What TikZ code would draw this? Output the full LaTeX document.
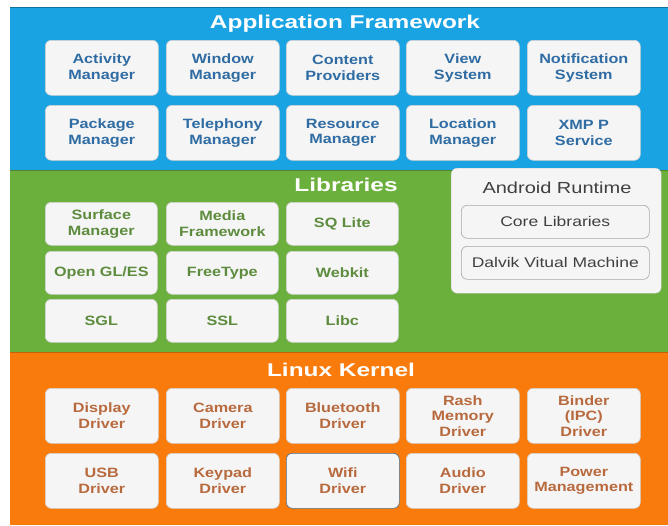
\documentclass[tikz,border=0pt]{standalone}
\usepackage{fontspec}
\setmainfont{Liberation Sans}
\newfontfamily\boxfont[FakeStretch=1.2]{Liberation Sans}
\newfontfamily\rtfont[FakeStretch=1.25]{Liberation Sans}
\newfontfamily\titlefont[FakeStretch=1.32]{Liberation Sans}
\definecolor{fwblue}{HTML}{1AA3E2}
\definecolor{libgreen}{HTML}{6BB03C}
\definecolor{kerorange}{HTML}{F97B0C}
\definecolor{fwtext}{HTML}{2F6CA3}
\definecolor{libtext}{HTML}{5E8C3E}
\definecolor{kertext}{HTML}{B86A3E}
\definecolor{boxfill}{HTML}{F5F5F5}
\definecolor{boxline}{HTML}{D0D0D0}
\tikzset{
  cell/.style={draw=boxline, fill=boxfill, rounded corners=6pt, line width=0.6pt,
    minimum width=113pt, minimum height=55pt, align=center, inner sep=1pt,
    font=\boxfont\fontsize{13.5}{15.5}\selectfont\bfseries, anchor=north west},
  fwcell/.style={cell, text=fwtext},
  libcell/.style={cell, text=libtext, minimum height=43pt, minimum width=112pt},
  kercell/.style={cell, text=kertext},
  bandtitle/.style={text=white, font=\titlefont\fontsize{18.5}{20}\selectfont\bfseries},
  rtbox/.style={draw=boxline!80!black, fill=boxfill, rounded corners=6pt, line width=0.6pt,
    minimum width=188pt, minimum height=33pt, text=black!75,
    font=\rtfont\fontsize{14}{16}\selectfont, anchor=north west}
}
\begin{document}
\begin{tikzpicture}[x=1pt,y=-1pt]
\useasboundingbox (0,0) rectangle (668,525);
\fill[white] (0,0) rectangle (668,525);
% bands
\fill[fwblue] (10,7) rectangle (668,170);
\draw[fwblue!70!black, line width=0.8pt] (10,7.4) -- (668,7.4);
\fill[libgreen] (10,170) rectangle (668,352);
\fill[kerorange] (10,352) rectangle (668,525);
\draw[libgreen!75!black, line width=1.2pt] (10,170.5) -- (668,170.5);
\draw[kerorange!80!black, line width=1.2pt] (10,352.5) -- (668,352.5);
% titles
\node[bandtitle] (fwt) at (345,24) {Application Framework};
\node[bandtitle] (libt) at (346,185) {Libraries};
\node[bandtitle] (kert) at (341,370) {Linux Kernel};
% framework
\node[fwcell] (am) at (45,40) {Activity\\Manager};
\node[fwcell] (wm) at (166,40) {Window\\Manager};
\node[fwcell] (cp) at (286,40) {Content\\Providers};
\node[fwcell] (vs) at (406,40) {View\\System};
\node[fwcell] (ns) at (527,40) {Notification\\System};
\node[fwcell] (pm) at (45,105) {Package\\Manager};
\node[fwcell] (tm) at (166,105) {Telephony\\Manager};
\node[fwcell] (rm) at (286,105) {Resource\\Manager};
\node[fwcell] (lm) at (406,105) {Location\\Manager};
\node[fwcell] (xs) at (527,105) {XMP P\\Service};
% libraries
\node[libcell] (sm) at (45,202) {Surface\\Manager};
\node[libcell] (mf) at (166,202) {Media\\Framework};
\node[libcell] (sq) at (286,202) {SQ Lite};
\node[libcell] (og) at (45,251) {Open GL/ES};
\node[libcell] (ft) at (166,251) {FreeType};
\node[libcell] (wk) at (286,251) {Webkit};
\node[libcell] (sg) at (45,299) {SGL};
\node[libcell] (ss) at (166,299) {SSL};
\node[libcell] (lc) at (286,299) {Libc};
% android runtime
\node[draw=boxline, fill=boxfill, rounded corners=6pt, minimum width=210pt,
  minimum height=125pt, anchor=north west] (ar) at (451,168) {};
\node[text=black!75, font=\rtfont\fontsize{16}{18}\selectfont] (art) at (557,188) {Android Runtime};
\node[rtbox] (cl) at (461,205) {Core Libraries};
\node[rtbox] (dv) at (461,246) {Dalvik Vitual Machine};
% kernel
\node[kercell] (dd) at (45,388) {Display\\Driver};
\node[kercell] (cd) at (166,388) {Camera\\Driver};
\node[kercell] (bd) at (286,388) {Bluetooth\\Driver};
\node[kercell] (fd) at (406,388) {Rash\\Memory\\Driver};
\node[kercell] (bi) at (527,388) {Binder\\(IPC)\\Driver};
\node[kercell] (ud) at (45,453) {USB\\Driver};
\node[kercell] (kd) at (166,453) {Keypad\\Driver};
\node[kercell, draw=fwtext!70!gray] (wd) at (286,453) {Wifi\\Driver};
\node[kercell] (ad) at (406,453) {Audio\\Driver};
\node[kercell] (pw) at (527,453) {Power\\Management};
\end{tikzpicture}
\end{document}
